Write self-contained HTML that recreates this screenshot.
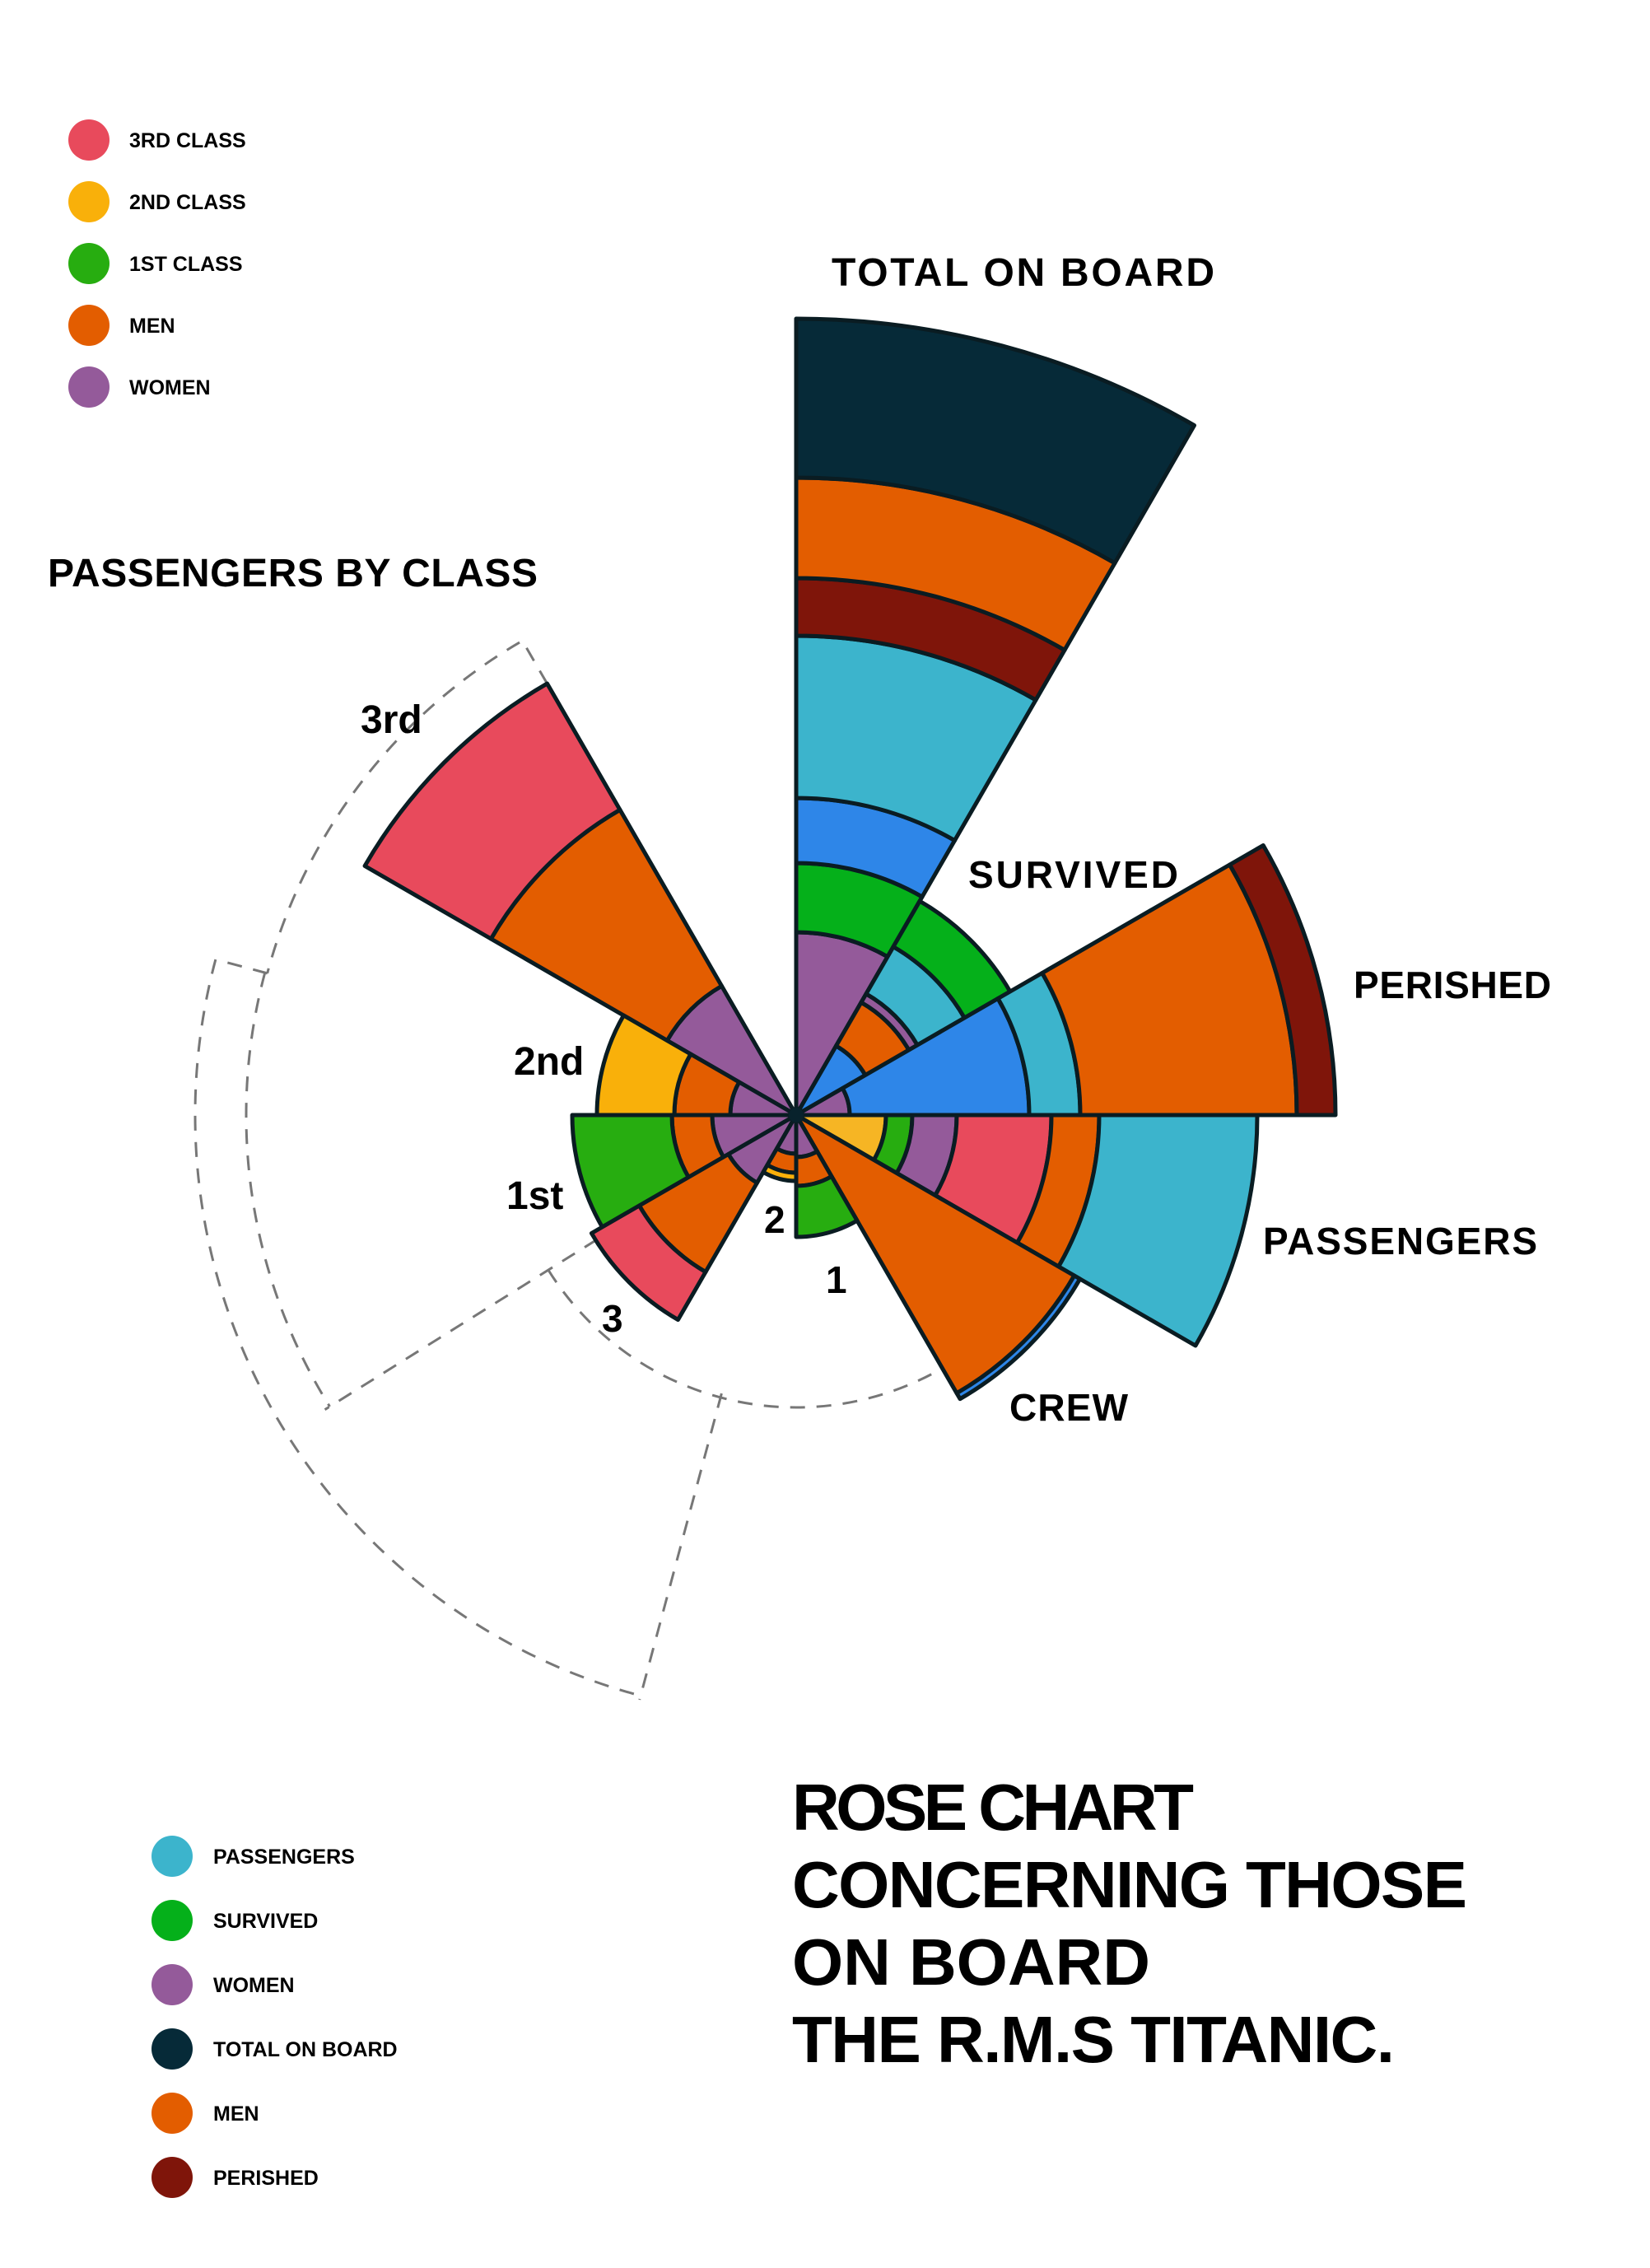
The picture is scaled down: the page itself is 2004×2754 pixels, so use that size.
<!DOCTYPE html>
<html><head><meta charset="utf-8"><style>
html,body{margin:0;padding:0;background:#fff}
svg{display:block}
text{font-family:"Liberation Sans",sans-serif;font-weight:bold;fill:#000}
</style></head><body>
<svg id="chart" width="2004" height="2754" viewBox="0 0 2004 2754" xmlns="http://www.w3.org/2000/svg">
<g id="dashes" fill="none" stroke="#777" stroke-width="3" stroke-dasharray="18 14"></g>
<g id="wedges"></g>
<circle cx="967" cy="1354" r="9" fill="#08222c"/>
<g id="labels">
<text x="1010" y="347" font-size="48" textLength="465">TOTAL ON BOARD</text>
<text x="1176" y="1078" font-size="46" textLength="255">SURVIVED</text>
<text x="1644" y="1212" font-size="46" textLength="240">PERISHED</text>
<text x="1534" y="1523" font-size="46" textLength="333">PASSENGERS</text>
<text x="1226" y="1725" font-size="46" textLength="144">CREW</text>
<text x="58" y="712" font-size="48" textLength="595">PASSENGERS BY CLASS</text>
<text x="438" y="890" font-size="48">3rd</text>
<text x="624" y="1305" font-size="48">2nd</text>
<text x="615" y="1468" font-size="48">1st</text>
<text x="731" y="1617" font-size="46">3</text>
<text x="928" y="1497" font-size="46">2</text>
<text x="1003" y="1570" font-size="46">1</text>
</g>
<g id="legend1"></g>
<g id="legend2"></g>
<g>
<text x="962" y="2222" font-size="80" textLength="488">ROSE CHART</text>
<text x="962" y="2316" font-size="80" textLength="820">CONCERNING THOSE</text>
<text x="962" y="2410" font-size="80" textLength="435">ON BOARD</text>
<text x="962" y="2504" font-size="80" textLength="732">THE R.M.S TITANIC.</text>
</g>
</svg>
<script>
const C = {navy:'#062a38', men:'#e35d00', dred:'#7f150a', cyan:'#3cb4cc', blue:'#2e86e8', sgreen:'#05b01a', green:'#27ad10', women:'#945a9a', red:'#e84a5c', yellow:'#f9b00a', pyellow:'#f6b524'};
// sectors (start angle deg, counterclockwise from east)
const sectorNames = ['total','survived','perished','passengers','crew','third','second','first','c3','c2','c1'];
const sectorStart = [60,30,0,-30,-60,120,150,180,210,240,270];
// band outer values per sector (inner to outer)
const bandValues = [
  [222,306,385,582,652,774,967],
  [97,158,170,236,300],
  [65,283,345,608,655],
  [109,141,195,310,368,560],
  [390,398],
  [181,428,605],
  [80,148,242],
  [102,151,272],
  [95,220,287],
  [47,70,80],
  [51,86,148]
];
const bandColors = [
  ['women','sgreen','blue','cyan','dred','men','navy'],
  ['blue','men','women','cyan','sgreen'],
  ['women','blue','cyan','men','dred'],
  ['pyellow','green','women','red','men','cyan'],
  ['men','blue'],
  ['women','men','red'],
  ['women','men','yellow'],
  ['women','men','green'],
  ['women','men','red'],
  ['women','men','yellow'],
  ['women','men','green']
];
const legend1Labels = ['3RD CLASS','2ND CLASS','1ST CLASS','MEN','WOMEN'];
const legend1Colors = ['red','yellow','green','men','women'];
const legend2Labels = ['PASSENGERS','SURVIVED','WOMEN','TOTAL ON BOARD','MEN','PERISHED'];
const legend2Colors = ['cyan','sgreen','women','navy','men','dred'];

const cx=967, cy=1354, span=30;
const rScale = v => v;
const pt = (a,r) => [cx + r*Math.cos(a*Math.PI/180), cy - r*Math.sin(a*Math.PI/180)];
function arcPath(a0,a1,r0,r1){
  const p1=pt(a0,r1), p2=pt(a1,r1);
  let d=`M${pt(a0,r0).join(',')} L${p1.join(',')} A${r1},${r1} 0 0 0 ${p2.join(',')}`;
  if(r0>0){const p3=pt(a1,r0),p4=pt(a0,r0); d+=` L${p3.join(',')} A${r0},${r0} 0 0 1 ${p4.join(',')}`;}
  else d+=` L${cx},${cy}`;
  return d+'Z';
}
const NS='http://www.w3.org/2000/svg';
const wg=document.getElementById('wedges');
sectorNames.forEach((nm,i)=>{
  const a0=sectorStart[i], a1=a0+span;
  let prev=0;
  bandValues[i].forEach((v,j)=>{
    const r=rScale(v);
    const p=document.createElementNS(NS,'path');
    p.setAttribute('d',arcPath(a0,a1,rScale(prev),r));
    p.setAttribute('fill',C[bandColors[i][j]]);
    p.setAttribute('stroke','#0a1c22');
    p.setAttribute('stroke-width','5');
    p.setAttribute('stroke-linejoin','round');
    
    
    wg.appendChild(p);
    prev=v;
  });
});
// dashed outlines
const dg=document.getElementById('dashes');
function dpath(d,name){const p=document.createElementNS(NS,'path');p.setAttribute('d',d);
  
  
  dg.appendChild(p);}
function arcD(a0,a1,r){const s=pt(a0,r),e=pt(a1,r);const large=(a1-a0)>180?1:0;return `M${s.join(',')} A${r},${r} 0 ${large} 0 ${e.join(',')}`;}
dpath(`M${pt(120,605).join(',')} L${pt(120,665).join(',')} `+arcD(120,165,665).slice(arcD(120,165,665).indexOf('A')),'dashed-third-outline');
dpath(`M${pt(165,665).join(',')} L${pt(165,725).join(',')}`,'dashed-step');
dpath(arcD(165,255,730),'dashed-outer-arc');
dpath(arcD(165,212,668),'dashed-inner-arc');
dpath(`M${pt(212,285).join(',')} L${pt(212,675).join(',')}`,'dashed-radial-1');
dpath(`M${pt(255,350).join(',')} L${pt(255,735).join(',')}`,'dashed-radial-2');
dpath(arcD(212,303,355),'dashed-bottom-arc');
// legends
function legend(gid,labels,colors,x,y0,step,fs,r,tx,name){
  const g=document.getElementById(gid);
  labels.forEach((l,i)=>{
    const c=document.createElementNS(NS,'circle');
    c.setAttribute('cx',x);c.setAttribute('cy',y0+i*step);c.setAttribute('r',r);c.setAttribute('fill',C[colors[i]]);
    
    
    g.appendChild(c);
    const t=document.createElementNS(NS,'text');
    t.setAttribute('x',tx);t.setAttribute('y',y0+i*step+fs*0.36);t.setAttribute('font-size',fs);t.textContent=l;
    
    
    g.appendChild(t);
  });
}
legend('legend1',legend1Labels,legend1Colors,108,170,75,25,25,157,'class-legend-entry');
legend('legend2',legend2Labels,legend2Colors,209,2254,78,25,25,259,'category-legend-entry');
</script>
</body></html>
